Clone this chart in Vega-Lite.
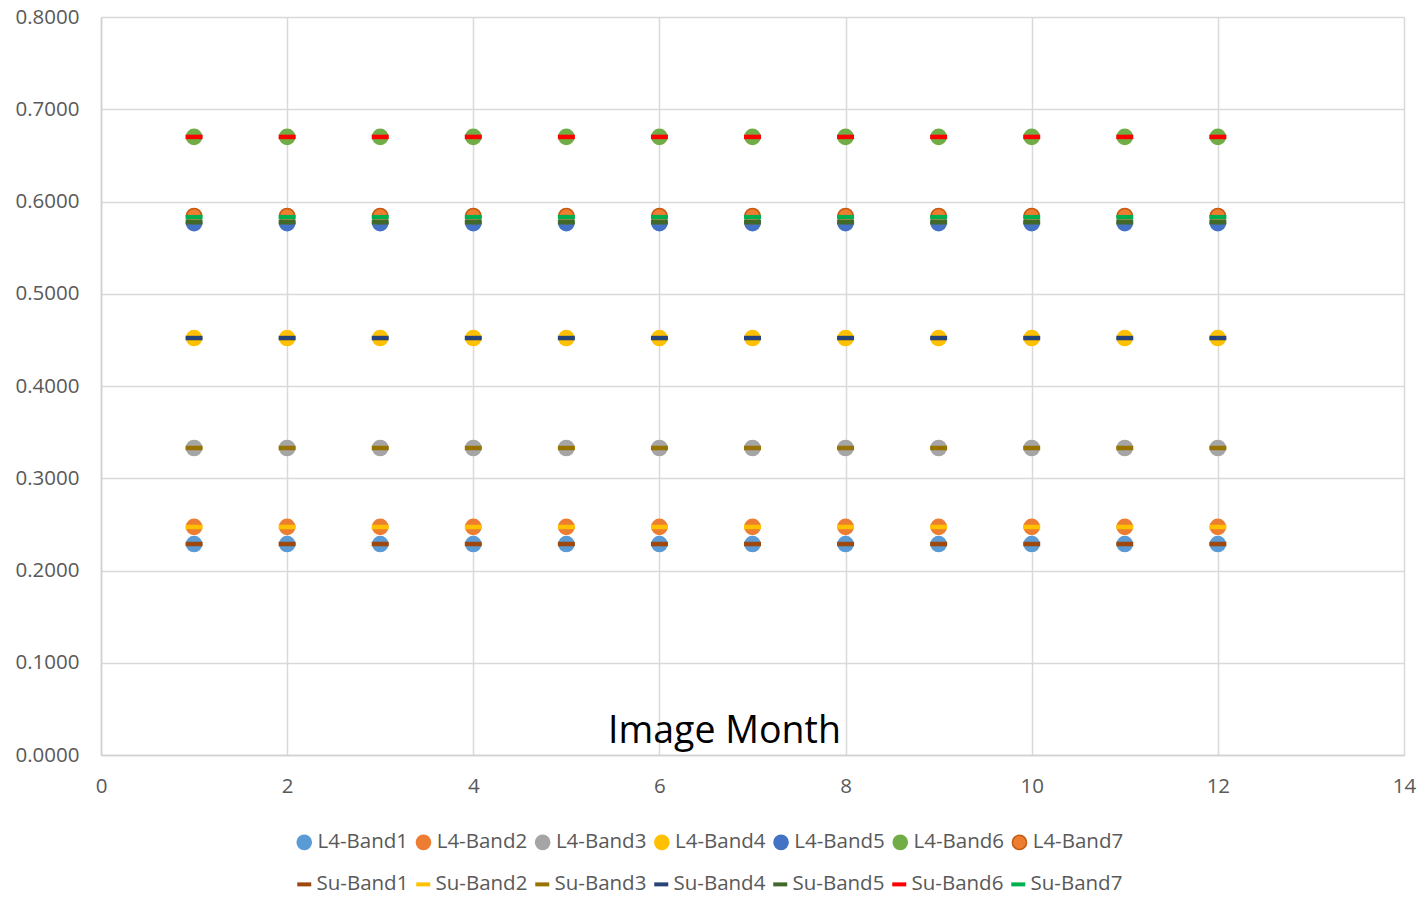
{
  "$schema": "https://vega.github.io/schema/vega-lite/v6.json",
  "width": 1303,
  "height": 738,
  "autosize": {"type": "none"},
  "padding": {"left": 101, "top": 17, "right": 17, "bottom": 143},
  "background": "white",
  "config": {
    "font": "Open Sans",
    "view": {"stroke": null},
    "axis": {
      "labelFont": "Open Sans",
      "labelFontSize": 20.5,
      "labelColor": "#595959",
      "gridColor": "#d9d9d9",
      "gridWidth": 1.5,
      "domainColor": "#d0d0d0",
      "domainWidth": 1.5,
      "ticks": false
    },
    "legend": {
      "labelFont": "Open Sans",
      "labelFontSize": 20.5,
      "labelColor": "#595959",
      "title": null,
      "direction": "horizontal",
      "columns": 7,
      "labelOffset": 3
    }
  },
  "data": {
    "values": [
      {"month": 1, "series": "L4-Band1", "value": 0.2287}, {"month": 2, "series": "L4-Band1", "value": 0.2287}, {"month": 3, "series": "L4-Band1", "value": 0.2287}, {"month": 4, "series": "L4-Band1", "value": 0.2287}, {"month": 5, "series": "L4-Band1", "value": 0.2287}, {"month": 6, "series": "L4-Band1", "value": 0.2287}, {"month": 7, "series": "L4-Band1", "value": 0.2287}, {"month": 8, "series": "L4-Band1", "value": 0.2287}, {"month": 9, "series": "L4-Band1", "value": 0.2287}, {"month": 10, "series": "L4-Band1", "value": 0.2287}, {"month": 11, "series": "L4-Band1", "value": 0.2287}, {"month": 12, "series": "L4-Band1", "value": 0.2287},
      {"month": 1, "series": "L4-Band2", "value": 0.2472}, {"month": 2, "series": "L4-Band2", "value": 0.2472}, {"month": 3, "series": "L4-Band2", "value": 0.2472}, {"month": 4, "series": "L4-Band2", "value": 0.2472}, {"month": 5, "series": "L4-Band2", "value": 0.2472}, {"month": 6, "series": "L4-Band2", "value": 0.2472}, {"month": 7, "series": "L4-Band2", "value": 0.2472}, {"month": 8, "series": "L4-Band2", "value": 0.2472}, {"month": 9, "series": "L4-Band2", "value": 0.2472}, {"month": 10, "series": "L4-Band2", "value": 0.2472}, {"month": 11, "series": "L4-Band2", "value": 0.2472}, {"month": 12, "series": "L4-Band2", "value": 0.2472},
      {"month": 1, "series": "L4-Band3", "value": 0.3328}, {"month": 2, "series": "L4-Band3", "value": 0.3328}, {"month": 3, "series": "L4-Band3", "value": 0.3328}, {"month": 4, "series": "L4-Band3", "value": 0.3328}, {"month": 5, "series": "L4-Band3", "value": 0.3328}, {"month": 6, "series": "L4-Band3", "value": 0.3328}, {"month": 7, "series": "L4-Band3", "value": 0.3328}, {"month": 8, "series": "L4-Band3", "value": 0.3328}, {"month": 9, "series": "L4-Band3", "value": 0.3328}, {"month": 10, "series": "L4-Band3", "value": 0.3328}, {"month": 11, "series": "L4-Band3", "value": 0.3328}, {"month": 12, "series": "L4-Band3", "value": 0.3328},
      {"month": 1, "series": "L4-Band4", "value": 0.452}, {"month": 2, "series": "L4-Band4", "value": 0.452}, {"month": 3, "series": "L4-Band4", "value": 0.452}, {"month": 4, "series": "L4-Band4", "value": 0.452}, {"month": 5, "series": "L4-Band4", "value": 0.452}, {"month": 6, "series": "L4-Band4", "value": 0.452}, {"month": 7, "series": "L4-Band4", "value": 0.452}, {"month": 8, "series": "L4-Band4", "value": 0.452}, {"month": 9, "series": "L4-Band4", "value": 0.452}, {"month": 10, "series": "L4-Band4", "value": 0.452}, {"month": 11, "series": "L4-Band4", "value": 0.452}, {"month": 12, "series": "L4-Band4", "value": 0.452},
      {"month": 1, "series": "L4-Band5", "value": 0.5765}, {"month": 2, "series": "L4-Band5", "value": 0.5765}, {"month": 3, "series": "L4-Band5", "value": 0.5765}, {"month": 4, "series": "L4-Band5", "value": 0.5765}, {"month": 5, "series": "L4-Band5", "value": 0.5765}, {"month": 6, "series": "L4-Band5", "value": 0.5765}, {"month": 7, "series": "L4-Band5", "value": 0.5765}, {"month": 8, "series": "L4-Band5", "value": 0.5765}, {"month": 9, "series": "L4-Band5", "value": 0.5765}, {"month": 10, "series": "L4-Band5", "value": 0.5765}, {"month": 11, "series": "L4-Band5", "value": 0.5765}, {"month": 12, "series": "L4-Band5", "value": 0.5765},
      {"month": 1, "series": "L4-Band6", "value": 0.67}, {"month": 2, "series": "L4-Band6", "value": 0.67}, {"month": 3, "series": "L4-Band6", "value": 0.67}, {"month": 4, "series": "L4-Band6", "value": 0.67}, {"month": 5, "series": "L4-Band6", "value": 0.67}, {"month": 6, "series": "L4-Band6", "value": 0.67}, {"month": 7, "series": "L4-Band6", "value": 0.67}, {"month": 8, "series": "L4-Band6", "value": 0.67}, {"month": 9, "series": "L4-Band6", "value": 0.67}, {"month": 10, "series": "L4-Band6", "value": 0.67}, {"month": 11, "series": "L4-Band6", "value": 0.67}, {"month": 12, "series": "L4-Band6", "value": 0.67},
      {"month": 1, "series": "L4-Band7", "value": 0.5843}, {"month": 2, "series": "L4-Band7", "value": 0.5843}, {"month": 3, "series": "L4-Band7", "value": 0.5843}, {"month": 4, "series": "L4-Band7", "value": 0.5843}, {"month": 5, "series": "L4-Band7", "value": 0.5843}, {"month": 6, "series": "L4-Band7", "value": 0.5843}, {"month": 7, "series": "L4-Band7", "value": 0.5843}, {"month": 8, "series": "L4-Band7", "value": 0.5843}, {"month": 9, "series": "L4-Band7", "value": 0.5843}, {"month": 10, "series": "L4-Band7", "value": 0.5843}, {"month": 11, "series": "L4-Band7", "value": 0.5843}, {"month": 12, "series": "L4-Band7", "value": 0.5843},
      {"month": 1, "series": "Su-Band1", "value": 0.2287}, {"month": 2, "series": "Su-Band1", "value": 0.2287}, {"month": 3, "series": "Su-Band1", "value": 0.2287}, {"month": 4, "series": "Su-Band1", "value": 0.2287}, {"month": 5, "series": "Su-Band1", "value": 0.2287}, {"month": 6, "series": "Su-Band1", "value": 0.2287}, {"month": 7, "series": "Su-Band1", "value": 0.2287}, {"month": 8, "series": "Su-Band1", "value": 0.2287}, {"month": 9, "series": "Su-Band1", "value": 0.2287}, {"month": 10, "series": "Su-Band1", "value": 0.2287}, {"month": 11, "series": "Su-Band1", "value": 0.2287}, {"month": 12, "series": "Su-Band1", "value": 0.2287},
      {"month": 1, "series": "Su-Band2", "value": 0.2472}, {"month": 2, "series": "Su-Band2", "value": 0.2472}, {"month": 3, "series": "Su-Band2", "value": 0.2472}, {"month": 4, "series": "Su-Band2", "value": 0.2472}, {"month": 5, "series": "Su-Band2", "value": 0.2472}, {"month": 6, "series": "Su-Band2", "value": 0.2472}, {"month": 7, "series": "Su-Band2", "value": 0.2472}, {"month": 8, "series": "Su-Band2", "value": 0.2472}, {"month": 9, "series": "Su-Band2", "value": 0.2472}, {"month": 10, "series": "Su-Band2", "value": 0.2472}, {"month": 11, "series": "Su-Band2", "value": 0.2472}, {"month": 12, "series": "Su-Band2", "value": 0.2472},
      {"month": 1, "series": "Su-Band3", "value": 0.3328}, {"month": 2, "series": "Su-Band3", "value": 0.3328}, {"month": 3, "series": "Su-Band3", "value": 0.3328}, {"month": 4, "series": "Su-Band3", "value": 0.3328}, {"month": 5, "series": "Su-Band3", "value": 0.3328}, {"month": 6, "series": "Su-Band3", "value": 0.3328}, {"month": 7, "series": "Su-Band3", "value": 0.3328}, {"month": 8, "series": "Su-Band3", "value": 0.3328}, {"month": 9, "series": "Su-Band3", "value": 0.3328}, {"month": 10, "series": "Su-Band3", "value": 0.3328}, {"month": 11, "series": "Su-Band3", "value": 0.3328}, {"month": 12, "series": "Su-Band3", "value": 0.3328},
      {"month": 1, "series": "Su-Band4", "value": 0.452}, {"month": 2, "series": "Su-Band4", "value": 0.452}, {"month": 3, "series": "Su-Band4", "value": 0.452}, {"month": 4, "series": "Su-Band4", "value": 0.452}, {"month": 5, "series": "Su-Band4", "value": 0.452}, {"month": 6, "series": "Su-Band4", "value": 0.452}, {"month": 7, "series": "Su-Band4", "value": 0.452}, {"month": 8, "series": "Su-Band4", "value": 0.452}, {"month": 9, "series": "Su-Band4", "value": 0.452}, {"month": 10, "series": "Su-Band4", "value": 0.452}, {"month": 11, "series": "Su-Band4", "value": 0.452}, {"month": 12, "series": "Su-Band4", "value": 0.452},
      {"month": 1, "series": "Su-Band5", "value": 0.5775}, {"month": 2, "series": "Su-Band5", "value": 0.5775}, {"month": 3, "series": "Su-Band5", "value": 0.5775}, {"month": 4, "series": "Su-Band5", "value": 0.5775}, {"month": 5, "series": "Su-Band5", "value": 0.5775}, {"month": 6, "series": "Su-Band5", "value": 0.5775}, {"month": 7, "series": "Su-Band5", "value": 0.5775}, {"month": 8, "series": "Su-Band5", "value": 0.5775}, {"month": 9, "series": "Su-Band5", "value": 0.5775}, {"month": 10, "series": "Su-Band5", "value": 0.5775}, {"month": 11, "series": "Su-Band5", "value": 0.5775}, {"month": 12, "series": "Su-Band5", "value": 0.5775},
      {"month": 1, "series": "Su-Band6", "value": 0.67}, {"month": 2, "series": "Su-Band6", "value": 0.67}, {"month": 3, "series": "Su-Band6", "value": 0.67}, {"month": 4, "series": "Su-Band6", "value": 0.67}, {"month": 5, "series": "Su-Band6", "value": 0.67}, {"month": 6, "series": "Su-Band6", "value": 0.67}, {"month": 7, "series": "Su-Band6", "value": 0.67}, {"month": 8, "series": "Su-Band6", "value": 0.67}, {"month": 9, "series": "Su-Band6", "value": 0.67}, {"month": 10, "series": "Su-Band6", "value": 0.67}, {"month": 11, "series": "Su-Band6", "value": 0.67}, {"month": 12, "series": "Su-Band6", "value": 0.67},
      {"month": 1, "series": "Su-Band7", "value": 0.583}, {"month": 2, "series": "Su-Band7", "value": 0.583}, {"month": 3, "series": "Su-Band7", "value": 0.583}, {"month": 4, "series": "Su-Band7", "value": 0.583}, {"month": 5, "series": "Su-Band7", "value": 0.583}, {"month": 6, "series": "Su-Band7", "value": 0.583}, {"month": 7, "series": "Su-Band7", "value": 0.583}, {"month": 8, "series": "Su-Band7", "value": 0.583}, {"month": 9, "series": "Su-Band7", "value": 0.583}, {"month": 10, "series": "Su-Band7", "value": 0.583}, {"month": 11, "series": "Su-Band7", "value": 0.583}, {"month": 12, "series": "Su-Band7", "value": 0.583}
    ]
  },
  "encoding": {
    "x": {
      "field": "month",
      "type": "quantitative",
      "scale": {"domain": [0, 14], "nice": false},
      "axis": {
        "values": [0, 2, 4, 6, 8, 10, 12, 14],
        "labelFlush": false,
        "labelPadding": 21,
        "title": "Image Month",
        "titleFont": "Open Sans",
        "titleFontSize": 37.5,
        "titleFontWeight": "normal",
        "titleColor": "#000000",
        "titleX": 623,
        "titleY": -24,
        "titleAlign": "center",
        "titleBaseline": "middle"
      }
    },
    "y": {
      "field": "value",
      "type": "quantitative",
      "scale": {"domain": [0, 0.8], "nice": false},
      "axis": {
        "values": [0, 0.1, 0.2, 0.3, 0.4, 0.5, 0.6, 0.7, 0.8],
        "format": ".4f",
        "labelPadding": 22,
        "title": null
      }
    }
  },
  "layer": [
    {
      "transform": [{"filter": "indexof(datum.series, 'L4') === 0"}],
      "mark": {"type": "point", "shape": "circle", "filled": true, "opacity": 1, "size": 230, "strokeWidth": 1.5},
      "encoding": {
        "fill": {
          "field": "series",
          "type": "nominal",
          "scale": {
            "domain": ["L4-Band1", "L4-Band2", "L4-Band3", "L4-Band4", "L4-Band5", "L4-Band6", "L4-Band7"],
            "range": ["#5B9BD5", "#ED7D31", "#A5A5A5", "#FFC000", "#4472C4", "#70AD47", "#ED7D31"]
          },
          "legend": {
            "orient": "none",
            "legendX": 193,
            "legendY": 815,
            "symbolType": "circle",
            "symbolSize": 200,
            "symbolStrokeWidth": 1.5,
            "columnPadding": 5.2
          }
        },
        "stroke": {
          "field": "series",
          "type": "nominal",
          "scale": {
            "domain": ["L4-Band1", "L4-Band2", "L4-Band3", "L4-Band4", "L4-Band5", "L4-Band6", "L4-Band7"],
            "range": ["#5B9BD5", "#ED7D31", "#A5A5A5", "#FFC000", "#4472C4", "#70AD47", "#C55A11"]
          },
          "legend": {
            "orient": "none",
            "legendX": 193,
            "legendY": 815,
            "symbolType": "circle",
            "symbolSize": 200,
            "symbolStrokeWidth": 1.5,
            "columnPadding": 5.2
          }
        }
      }
    },
    {
      "transform": [{"filter": "indexof(datum.series, 'Su') === 0"}],
      "mark": {"type": "point", "shape": "stroke", "filled": false, "opacity": 1, "size": 289, "strokeWidth": 4.5},
      "encoding": {
        "color": {
          "field": "series",
          "type": "nominal",
          "scale": {
            "domain": ["Su-Band1", "Su-Band2", "Su-Band3", "Su-Band4", "Su-Band5", "Su-Band6", "Su-Band7"],
            "range": ["#9E480E", "#FFC000", "#997300", "#264478", "#43682B", "#FF0000", "#00B050"]
          },
          "legend": {
            "orient": "none",
            "legendX": 193,
            "legendY": 857,
            "symbolType": "stroke",
            "symbolSize": 196,
            "symbolStrokeWidth": 4,
            "labelOffset": 2,
            "columnPadding": -1
          }
        }
      }
    }
  ],
  "resolve": {"scale": {"color": "independent", "fill": "independent", "stroke": "independent"}}
}
